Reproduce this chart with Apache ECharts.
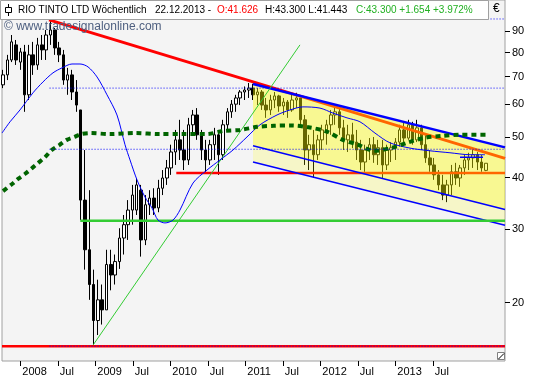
<!DOCTYPE html>
<html><head><meta charset="utf-8">
<script src="https://cdn.jsdelivr.net/npm/echarts@6/dist/echarts.min.js"></script>
<style>html,body{margin:0;padding:0;background:#fff}#c{width:540px;height:380px}</style>
</head><body><div id="c"></div>
<script>
// ---- weekly bars (every 3rd week), prices in EUR ----
const firstBarYear = 2007.77;
const barStepWeeks = 3;
const opens = [66.9,70.7,76.8,83.5,75.9,80.3,63.3,79.0,74.7,83.5,
 81.2,88.2,90.7,82.1,79.0,68.7,70.7,64.3,58.2,35.3,
 26.8,22.1,18.1,20.3,19.2,24.7,23.3,25.1,28.6,30.8,
 33.4,33.4,37.3,28.3,34.4,35.7,33.8,37.7,39.9,42.2,
 46.1,49.3,46.6,44.1,53.6,56.6,50.7,46.6,44.1,48.0,
 50.7,45.4,53.6,57.6,60.1,62.2,64.3,65.0,65.7,63.3,
 64.3,59.8,58.2,61.5,62.9,59.5,60.8,58.2,61.5,62.2,
 55.1,46.6,48.0,45.4,49.3,52.1,53.6,56.6,57.6,52.7,
 49.3,50.7,48.7,46.6,43.6,46.6,48.0,45.4,47.2,42.9,
 46.6,47.2,48.7,52.1,49.8,53.6,49.3,52.7,48.0,44.6,
 42.9,40.6,38.4,36.3,38.4,41.3,39.9,42.2,44.1,44.6,
 45.4,43.6,41.626];
const closes = [70.7,76.8,84.9,76.8,80.3,63.3,79.0,74.7,83.5,81.2,
 88.2,90.7,82.1,79.0,68.7,70.7,64.3,59.8,35.3,26.8,
 22.1,18.1,20.3,19.2,24.7,23.3,25.1,28.6,30.8,33.4,
 36.3,38.4,28.3,34.4,35.7,33.8,37.7,39.9,42.2,46.1,
 49.3,46.6,44.1,53.6,56.6,50.7,46.6,44.1,48.0,50.7,
 45.4,53.6,57.6,60.1,62.2,64.3,65.0,65.7,63.3,64.3,
 59.8,58.2,61.5,62.9,59.5,60.8,58.2,61.5,62.2,55.1,
 46.6,48.0,45.4,49.3,52.1,53.6,56.6,57.6,52.7,49.3,
 50.7,48.7,46.6,43.6,46.6,48.0,45.4,47.2,42.9,46.6,
 47.2,48.7,52.1,49.8,53.6,49.3,52.7,48.0,44.6,42.9,
 40.6,38.4,36.3,38.4,41.3,39.9,42.2,44.1,44.6,45.4,
 43.6,42.2,43.3];
const highs = [72.7,79.0,88.2,85.8,82.1,83.5,83.5,84.9,86.8,88.2,
 90.7,96.9,91.7,84.9,81.2,73.5,72.7,68.7,58.2,46.6,
 37.3,24.0,22.7,22.1,26.8,26.8,26.1,30.2,32.5,35.3,
 38.4,39.9,38.4,36.3,37.3,37.7,39.5,41.7,44.1,48.0,
 52.1,55.1,52.1,55.7,58.2,58.8,52.1,49.3,49.3,52.7,
 52.1,55.1,58.8,61.5,63.3,65.0,66.3,67.6,67.3,65.7,
 65.0,62.2,63.3,64.3,63.3,62.2,61.5,63.3,64.0,62.2,
 56.6,50.7,52.1,50.7,53.6,55.1,58.2,59.5,58.8,55.1,
 53.6,54.2,52.1,49.3,48.0,49.8,50.1,49.3,49.3,48.0,
 48.7,49.8,53.6,54.2,55.1,54.5,55.1,53.6,50.7,46.6,
 44.6,41.7,40.6,39.5,42.9,43.4,42.9,45.4,45.9,46.6,
 46.1,45.4,43.3];
const lows = [65.7,68.7,75.9,74.7,72.7,57.6,61.5,70.7,72.7,76.8,
 76.8,83.5,79.0,75.9,66.9,63.3,61.5,57.6,31.6,24.0,
 20.3,15.8,16.7,17.7,19.2,21.4,22.1,24.1,26.1,28.3,
 30.8,32.5,25.8,27.5,32.5,32.5,33.0,36.3,38.4,40.6,
 42.9,44.1,41.7,42.9,50.7,49.3,44.1,41.0,42.9,44.1,
 40.6,44.1,52.1,55.7,57.6,59.8,61.5,62.2,61.5,59.8,
 58.2,55.7,56.6,58.8,57.6,56.6,55.7,57.6,58.8,53.6,
 42.9,41.7,39.9,44.1,46.6,48.0,50.7,53.6,50.7,46.6,
 46.1,47.1,44.1,41.7,41.3,44.1,43.4,42.9,39.9,41.7,
 43.6,44.1,47.5,48.0,49.3,48.0,48.7,46.6,43.4,41.3,
 39.5,37.3,35.3,34.9,36.3,38.4,38.0,40.6,41.7,42.2,
 41.7,41.3,41.443];

// ---- indicators (year, price) ----
const maLongX = [2007.77,2007.89,2007.97,2008.06,2008.16,2008.24,2008.33,2008.42,2008.52,2008.62,2008.72,2008.81,2008.93,2009.20,2009.53,2009.86,2010.16,2010.49,2010.70,2010.93,2011.16,2011.38,2011.62,2011.86,2012.09,2012.30,2012.50,2012.72,2012.96,2013.17,2013.40,2013.62,2013.86,2014.22];
const maLongY = [37.1,38.6,39.7,40.8,42.2,43.4,44.8,46.6,47.9,49.3,50.1,50.9,51.2,50.9,51.2,50.9,50.9,50.9,51.8,52.1,53.0,53.3,53.4,52.8,51.6,49.3,48.0,46.4,47.2,48.6,49.9,50.4,50.7,50.7];
const maShortX = [2007.756,2007.863,2007.996,2008.169,2008.303,2008.436,2008.556,2008.689,2008.796,2008.903,2009.023,2009.156,2009.289,2009.396,2009.463,2009.556,2009.663,2009.756,2009.836,2009.929,2010.036,2010.129,2010.303,2010.489,2010.663,2010.836,2011.023,2011.196,2011.423,2011.596,2011.769,2011.996,2012.169,2012.356,2012.529,2012.729,2012.929,2013.196,2013.463,2013.729,2013.996,2014.196];
const maShortY = [51.2,54.5,58.2,64.0,68.0,71.5,73.5,75.1,75.1,73.9,69.9,63.3,56.6,48.0,44.1,39.5,35.9,33.8,31.6,31.1,31.6,33.4,38.8,41.7,44.1,46.6,50.1,53.6,56.6,58.2,59.2,58.8,57.2,55.7,54.5,51.2,48.5,47.1,46.4,45.9,45.4,45.4];

const fibLevels = [96.4, 65.7, 46.8, 15.7];
const fibStartYear = 2008.39;
const trendX = [2008.383, 2014.463];
const trendY = [95.9, 44.5];
const channelX = [2011.103, 2014.463];
const channelUpper = [67.2, 47.3];
const channelLower1 = [47.7, 33.5];
const channelLower2 = [43.6, 30.7];
const supportX = [2010.08, 2014.463], supportY = 41.0;
const greenX = [2008.80, 2014.463], greenY = 31.5;
const bottomY = 15.7;
const riseX = [2008.971, 2011.729], riseY = [15.8, 83.5];
const shortLvlX = [2013.863, 2014.17], shortLvlY = 44.8;

const xTickYears = [2008,2008.5,2009,2009.5,2010,2010.5,2011,2011.5,2012,2012.5,2013,2013.5];
const yTicks = [20,30,40,50,60,70,80,90];

const X_MIN = 2007.756, X_MAX = 2014.463, Y_MIN = 14.46, Y_MAX = 107.1;

const barX = opens.map((_, i) => firstBarYear + i * barStepWeeks * 7 / 365.25);
const candles = opens.map((o, i) => [barX[i], o, closes[i], lows[i], highs[i]]);

function seg(xs, ys) { return xs.map((x, i) => [x, Array.isArray(ys) ? ys[i] : ys]); }
function lineS(data, color, width, type, z, smooth) {
  return {type:'line', data, symbol:'none', smooth: smooth || false, z: z,
    lineStyle:{color, width, type: type || 'solid'}, silent:true, animation:false};
}
function poly(top, bottom, fill) {
  const pts = [[channelX[0], top[0]], [channelX[1], top[1]], [channelX[1], bottom[1]], [channelX[0], bottom[0]]];
  return {type:'custom', z:3, silent:true, animation:false, data:[[channelX[0], top[0]]],
    renderItem:(p, api) => ({type:'polygon', shape:{points: pts.map(q => api.coord(q))}, style:{fill}})};
}

const series = [
  {type:'candlestick', data:candles, barWidth:3, z:1, silent:true, animation:false,
   itemStyle:{color:'#ffffff', color0:'#000000', borderColor:'#000000', borderColor0:'#000000', borderWidth:1}},
  lineS(seg(trendX, trendY), '#ff0000', 3, 'solid', 2),
  lineS(seg(supportX, supportY), '#ff0000', 2.5, 'solid', 2),
  lineS(seg([X_MIN, X_MAX], bottomY), '#ff0000', 2.5, 'solid', 2),
  poly(channelUpper, channelLower1, 'rgba(255,255,0,0.4)'),
  poly(channelLower1, channelLower2, 'rgba(255,255,0,0.18)'),
  lineS(seg(channelX, channelUpper), '#0000ff', 2.5, 'solid', 4),
  lineS(seg(channelX, channelLower1), '#0000ff', 1.5, 'solid', 4),
  lineS(seg(channelX, channelLower2), '#0000ff', 1.5, 'solid', 4),
  lineS(seg(greenX, greenY), '#33cc33', 2.5, 'solid', 4),
  lineS(seg(riseX, riseY), '#33cc33', 1, 'solid', 4),
  lineS(seg(shortLvlX, shortLvlY), '#0000ff', 1.5, 'solid', 4),
  ...fibLevels.map(v => lineS(seg([fibStartYear, X_MAX], v), '#0000ff', 1, [1, 2], 5)),
  lineS(maShortX.map((x, i) => [x, maShortY[i]]), '#0000ff', 1, 'solid', 4, 0.3),
  lineS(maLongX.map((x, i) => [x, maLongY[i]]), '#006400', 4, [5, 4], 4, 0.3)
];

const FONT = '"Liberation Sans", Arial, sans-serif';
const hdrFont = '10px ' + FONT;
const lbl = {fontFamily:FONT, fontSize:11, color:'#000'};
const chart = echarts.init(document.getElementById('c'));
chart.setOption({
  animation:false,
  backgroundColor:'#ffffff',
  grid:{left:2, right:35, top:0, bottom:19, show:true, backgroundColor:'#f4f4f4', borderColor:'#a0a0a0', borderWidth:1},
  xAxis:{type:'value', min:X_MIN, max:X_MAX, splitLine:{show:false},
    axisLine:{show:false},
    axisTick:{show:true, length:5, customValues:xTickYears, lineStyle:{color:'#000'}},
    axisLabel:Object.assign({customValues:xTickYears, margin:5, align:'left', padding:[0,0,0,2],
      formatter:v => (Math.abs(v - Math.round(v)) < 1e-6 ? String(Math.round(v)) : 'Jul')}, lbl)},
  yAxis:{type:'log', position:'right', min:Y_MIN, max:Y_MAX, splitLine:{show:false},
    axisLine:{show:false},
    axisTick:{show:true, length:5, customValues:yTicks, lineStyle:{color:'#000'}},
    axisLabel:Object.assign({customValues:yTicks, margin:7, formatter:v => String(Math.round(v))}, lbl)},
  series,
  graphic:[
    {type:'text', x:4, y:27, z:50, silent:true, style:{text:'© www.tradesignalonline.com', fill:'#4f6080', font:'12px ' + FONT, verticalAlign:'middle'}},
    {type:'rect', shape:{x:0.5, y:0.5, width:488, height:19}, style:{fill:'#ffffff', stroke:'#a0a0a0', lineWidth:1}, z:100, silent:true},
    {type:'line', shape:{x1:8.5, y1:4, x2:8.5, y2:16}, style:{stroke:'#000', lineWidth:1}, z:101, silent:true},
    {type:'rect', shape:{x:5.5, y:7.5, width:6, height:5}, style:{fill:'#fff', stroke:'#000', lineWidth:1}, z:102, silent:true},
    {type:'text', x:18, y:10, z:101, silent:true, style:{text:'RIO TINTO LTD Wöchentlich', fill:'#000', font:hdrFont, verticalAlign:'middle'}},
    {type:'text', x:155, y:10, z:101, silent:true, style:{text:'22.12.2013 -', fill:'#000', font:hdrFont, verticalAlign:'middle'}},
    {type:'text', x:217, y:10, z:101, silent:true, style:{text:'O:41.626', fill:'#ff0000', font:hdrFont, verticalAlign:'middle'}},
    {type:'text', x:265, y:10, z:101, silent:true, style:{text:'H:43.300 L:41.443', fill:'#000', font:hdrFont, verticalAlign:'middle'}},
    {type:'text', x:356, y:10, z:101, silent:true, style:{text:'C:43.300 +1.654 +3.972%', fill:'#22b022', font:hdrFont, verticalAlign:'middle'}},
    {type:'text', x:493, y:9, z:101, silent:true, style:{text:'€', fill:'#000', font:'12px ' + FONT, verticalAlign:'middle'}},
    {type:'rect', shape:{x:497.5, y:352.5, width:7, height:7}, style:{fill:'#fff', stroke:'#808080', lineWidth:1}, z:101, silent:true},
    {type:'line', shape:{x1:498.5, y1:359, x2:504, y2:353.5}, style:{stroke:'#000', lineWidth:1}, z:102, silent:true}
  ]
});
</script></body></html>
